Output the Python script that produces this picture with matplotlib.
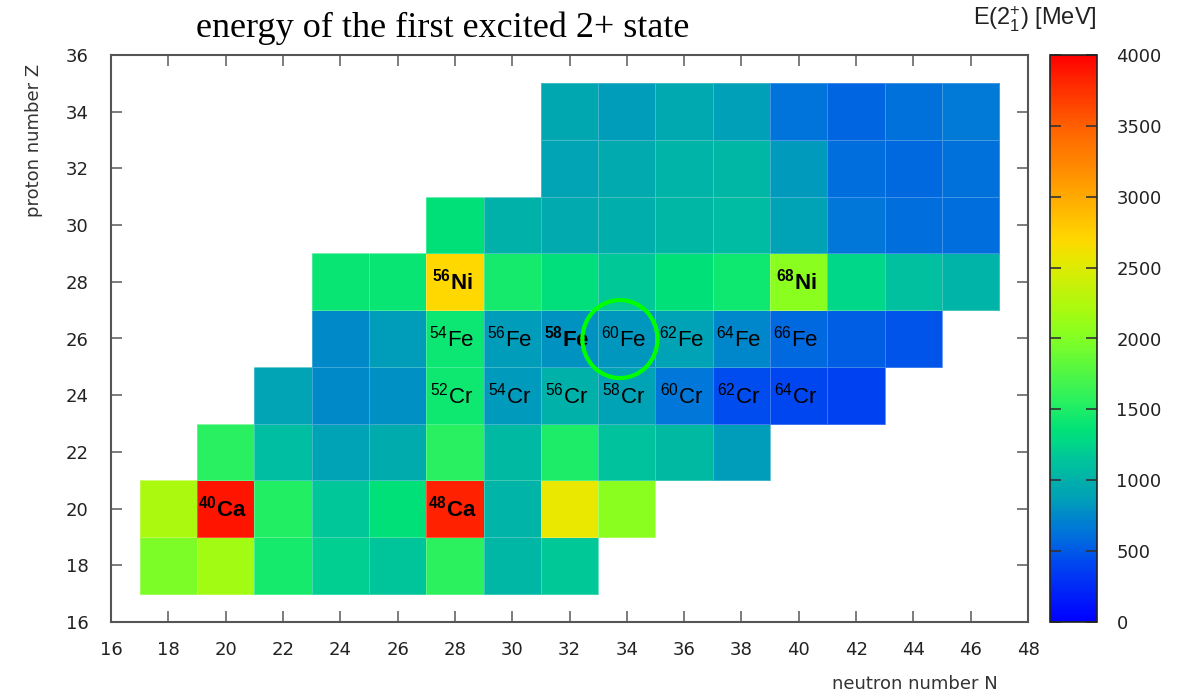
import matplotlib
matplotlib.use('Agg')
import matplotlib.pyplot as plt
import numpy as np
from matplotlib.colors import LinearSegmentedColormap
from matplotlib.patches import Ellipse

plt.rcParams.update({
    'font.family': 'Liberation Sans',
    'mathtext.fontset': 'custom',
    'mathtext.rm': 'Liberation Sans',
    'mathtext.it': 'Liberation Sans:italic',
    'mathtext.bf': 'Liberation Sans:bold',
})

# E(2+_1) in keV, one row per proton number Z, starting at N = n_start
z_rows = [18, 20, 22, 24, 26, 28, 30, 32, 34]
n_start = [18, 18, 20, 22, 24, 24, 28, 32, 32]
e_Z18 = [1970, 2168, 1461, 1208, 1144, 1577, 1038, 1178]
e_Z20 = [2206, 3904, 1525, 1157, 1346, 3832, 1027, 2563, 2043]
e_Z22 = [1555, 1083, 889, 984, 1554, 1050, 1495, 1129, 1047, 850]
e_Z24 = [892, 752, 783, 1434, 835, 1007, 880, 646, 446, 420, 386]
e_Z26 = [765, 849, 1408, 847, 811, 824, 877, 746, 575, 522, 480]
e_Z28 = [1397, 1392, 2701, 1454, 1333, 1173, 1346, 1425, 2033, 1260, 1096, 1024]
e_Z30 = [1356, 1004, 954, 992, 1039, 1077, 885, 653, 606, 599]
e_Z32 = [902, 957, 1016, 1040, 834, 596, 563, 619]
e_Z34 = [929, 854, 945, 862, 635, 559, 614, 666]
rows = [e_Z18, e_Z20, e_Z22, e_Z24, e_Z26, e_Z28, e_Z30, e_Z32, e_Z34]

# labelled nuclei: (N, Z, mass, symbol, bold)
labels = [
    (28, 28, 56, 'Ni', True), (40, 28, 68, 'Ni', True),
    (20, 20, 40, 'Ca', True), (28, 20, 48, 'Ca', True),
    (28, 26, 54, 'Fe', False), (30, 26, 56, 'Fe', False), (32, 26, 58, 'Fe', True),
    (34, 26, 60, 'Fe', False), (36, 26, 62, 'Fe', False), (38, 26, 64, 'Fe', False),
    (40, 26, 66, 'Fe', False),
    (28, 24, 52, 'Cr', False), (30, 24, 54, 'Cr', False), (32, 24, 56, 'Cr', False),
    (34, 24, 58, 'Cr', False), (36, 24, 60, 'Cr', False), (38, 24, 62, 'Cr', False),
    (40, 24, 64, 'Cr', False),
]

# gnuplot-like palette
pal_vals = [0, 420, 560, 650, 750, 840, 890, 980, 1040, 1100, 1170, 1260, 1350,
            1430, 1550, 2030, 2200, 2560, 2700, 3000, 3500, 3850, 4000]
pal_cols = ['#0000ff', '#0048f0', '#0068e0', '#0078d8', '#0088c8', '#009cbc',
            '#00a4b4', '#00acac', '#00b8a4', '#00c0a0', '#00c898', '#00d888',
            '#00e078', '#10e870', '#28f060', '#88ff20', '#a8fa10', '#e8e800',
            '#ffd800', '#ffaa00', '#ff6000', '#ff2000', '#ff0000']
cmap = LinearSegmentedColormap.from_list(
    'e2', list(zip(np.array(pal_vals) / 4000.0, pal_cols)))

# build grid of cells (each even N, Z cell spans +-1)
n_edges = np.arange(17, 49, 2)
z_edges = np.arange(17, 37, 2)
grid = np.full((len(z_edges) - 1, len(n_edges) - 1), np.nan)
for i, (z, n0, vals) in enumerate(zip(z_rows, n_start, rows)):
    for k, v in enumerate(vals):
        j = (n0 + 2 * k - 18) // 2
        grid[i, j] = v
grid = np.ma.masked_invalid(grid)

fig = plt.figure(figsize=(11.82, 6.95), dpi=100)
ax = fig.add_axes([111 / 1182, 1 - 622 / 695, 917 / 1182, 567 / 695])
mesh = ax.pcolormesh(n_edges, z_edges, grid, cmap=cmap, vmin=0, vmax=4000,
                     edgecolors=(1, 1, 1, 0.25), linewidth=0.6)

for n, z, a, sym, bold in labels:
    if bold:
        s = r'$^{\mathbf{%d}}\mathbf{%s}$' % (a, sym)
    else:
        s = r'$^{%d}\mathrm{%s}$' % (a, sym)
    ax.text(n - 0.1, z, s, ha='center', va='center', fontsize=16, color='black')

ax.add_patch(Ellipse((33.76, 25.98), 2.62, 2.75, fill=False,
                     edgecolor='#00ff00', linewidth=3, zorder=5))

tick_font = {'family': 'DejaVu Sans', 'size': 13}
ax.set_xlim(16, 48)
ax.set_ylim(16, 36)
ax.set_xticks(np.arange(16, 49, 2))
ax.set_yticks(np.arange(16, 37, 2))
ax.tick_params(direction='in', length=8, width=1.2, color='#666',
               top=True, right=True, labelcolor='#222')
ax.tick_params(axis='x', pad=14)
ax.tick_params(axis='y', pad=16)
for lab in ax.get_xticklabels() + ax.get_yticklabels():
    lab.set_fontproperties(tick_font)
for sp in ax.spines.values():
    sp.set_color('#555')
    sp.set_linewidth(1.5)

ax.set_ylabel('proton number Z', family='DejaVu Sans', fontsize=13, color='#333')
ax.yaxis.set_label_coords(-0.074, 0.85)
ax.set_xlabel('neutron number N', family='DejaVu Sans', fontsize=13, color='#333')
ax.xaxis.set_label_coords(0.877, -0.093)

cax = fig.add_axes([1050 / 1182, 1 - 622 / 695, 47 / 1182, 567 / 695])
cb = fig.colorbar(mesh, cax=cax, ticks=np.arange(0, 4001, 500))
cb.outline.set_edgecolor('#222')
cb.outline.set_linewidth(1.2)
cax.tick_params(direction='in', length=8, width=1.2, color='#333',
                left=True, right=True, labelcolor='#222', pad=14)
for lab in cax.get_yticklabels():
    lab.set_fontproperties(tick_font)

fig.text(443 / 1182, 1 - 28 / 695, 'energy of the first excited 2+ state',
         family='Liberation Serif', fontsize=26, ha='center', va='center')
fig.text(1035 / 1182, 1 - 19 / 695, r'E(2$_1^{+}$) [MeV]', fontsize=17,
         ha='center', va='center', color='#222')

fig.savefig('out.png', dpi=100)
